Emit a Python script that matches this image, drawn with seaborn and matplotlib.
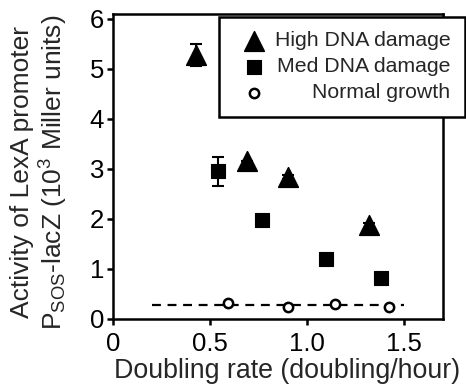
import matplotlib
matplotlib.use("Agg")
import matplotlib.pyplot as plt
import seaborn as sns
import numpy as np
import pandas as pd

high_x = [0.43, 0.69, 0.90, 1.32]
high_y = [5.28, 3.15, 2.84, 1.88]
high_err = [0.22, 0.0, 0.05, 0.05]

med_x = [0.54, 0.765, 1.095, 1.38]
med_y = [2.95, 1.99, 1.20, 0.83]
med_err = [0.29, 0.1, 0.0, 0.0]

normal_x = [0.59, 0.90, 1.145, 1.42]
normal_y = [0.33, 0.25, 0.30, 0.24]
normal_line_x = [0.2, 1.5]

x_ticks = [0, 0.5, 1.0, 1.5]
x_ticklabels = ["0", "0.5", "1.0", "1.5"]
y_ticks = [0, 1, 2, 3, 4, 5, 6]

sns.set_theme(style="ticks")
plt.rcParams['font.family'] = ['Liberation Sans', 'DejaVu Sans']
plt.rcParams['mathtext.fontset'] = 'custom'
plt.rcParams['mathtext.rm'] = 'Liberation Sans'
plt.rcParams['mathtext.it'] = 'Liberation Sans:italic'

fig = plt.figure(figsize=(4.66, 3.87), dpi=100)
ax = fig.add_axes([113/466, 1-319/387, (443-113)/466, (319-14)/387])

high = pd.DataFrame({"x": high_x, "y": high_y})
med = pd.DataFrame({"x": med_x, "y": med_y})
norm = pd.DataFrame({"x": normal_x, "y": normal_y})
line = pd.DataFrame({"x": normal_line_x, "y": [np.mean(normal_y)] * len(normal_line_x)})

ax.errorbar(high_x, high_y, yerr=high_err, fmt='none', ecolor='black', elinewidth=1.5, capsize=4.3, capthick=1.5, zorder=2)
ax.errorbar(med_x, med_y, yerr=med_err, fmt='none', ecolor='black', elinewidth=1.5, capsize=4.3, capthick=1.5, zorder=2)

sns.lineplot(data=line, x="x", y="y", ax=ax, color='black', linestyle=(0, (4, 3)), linewidth=1.6, zorder=1)
sns.scatterplot(data=high, x="x", y="y", ax=ax, marker='^', s=200, color='black', edgecolor='black', label="High DNA damage", zorder=3)
sns.scatterplot(data=med, x="x", y="y", ax=ax, marker='s', s=100, color='black', edgecolor='black', label="Med DNA damage", zorder=3)
sns.scatterplot(data=norm, x="x", y="y", ax=ax, marker='o', s=45, facecolor='white', edgecolor='black', linewidth=1.8, label="Normal growth", zorder=3)

ax.set_xlim(0, 1.7)
ax.set_ylim(0, 6.1)
ax.set_xticks(x_ticks)
ax.set_xticklabels(x_ticklabels)
ax.set_yticks(y_ticks)
ax.tick_params(direction='out', length=4.5, width=1.8, labelsize=18.5, colors='black')
ax.tick_params(axis='x', pad=5)
ax.tick_params(axis='y', pad=2)
for s in ax.spines.values():
    s.set_linewidth(1.8)
    s.set_color('black')
    s.set_visible(True)

ax.set_xlabel("Doubling rate (doubling/hour)", fontsize=19.3)
ax.xaxis.set_label_coords((287-113)/330, -(371-319)/305)
ax.xaxis.label.set_va('center')
ax.set_ylabel("Activity of LexA promoter\nP$_{\\mathrm{SOS}}$-lacZ (10$^{3}$ Miller units)", fontsize=19, linespacing=1.15)
ax.yaxis.set_label_coords((40-113)/330, (319-172)/305)
ax.yaxis.label.set_va('center')

leg = ax.legend(loc='upper right', bbox_to_anchor=(465/466, 1-17/387), bbox_transform=fig.transFigure,
                frameon=True, fancybox=False, fontsize=15.3, handletextpad=0.05, borderpad=0.68,
                labelspacing=0.33, handlelength=1.9, borderaxespad=0)
leg.get_frame().set_edgecolor('black')
leg.get_frame().set_linewidth(1.8)
leg.get_frame().set_alpha(1)
fig.canvas.draw()
widths = [t.get_window_extent().width for t in leg.get_texts()]
mw = max(widths)
for t, w in zip(leg.get_texts(), widths):
    t.set_position((mw - w, 0))

fig.savefig("out.png", dpi=100)
